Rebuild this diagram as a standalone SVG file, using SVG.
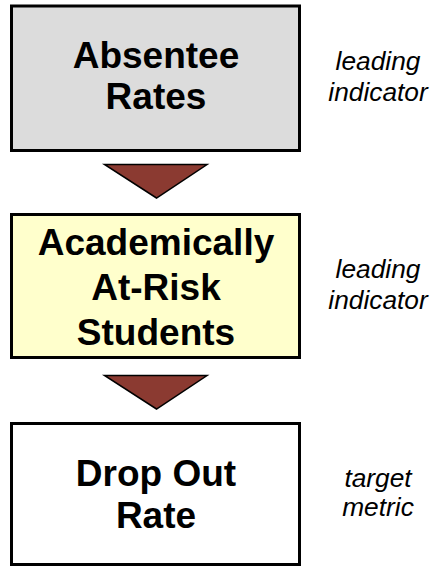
<svg xmlns="http://www.w3.org/2000/svg" width="432" height="566" viewBox="0 0 432 566">
<style>
.box{stroke:#000;stroke-width:3}
.t{font-family:"Liberation Sans",Arimo,Arial,sans-serif;font-weight:bold;font-size:37px;text-anchor:middle;fill:#000}
.n{font-family:"Liberation Sans",Arimo,Arial,sans-serif;font-style:italic;font-size:26.3px;text-anchor:middle;fill:#000}
.arr{fill:#8b3a31;stroke:#000;stroke-width:1.5;stroke-linejoin:miter}
</style>
<rect width="432" height="566" fill="#fff"/>
<g id="absentee">
<rect class="box" x="11.5" y="6" width="288" height="144.5" fill="#dcdcdc"/>
<text class="t" x="156" y="68">Absentee</text>
<text class="t" x="156" y="109">Rates</text>
</g>
<g id="label1">
<text class="n" x="378" y="70">leading</text>
<text class="n" x="378" y="101">indicator</text>
</g>
<g id="atrisk">
<rect class="box" x="11.5" y="214.5" width="288" height="143" fill="#ffffcc"/>
<text class="t" x="156" y="255">Academically</text>
<text class="t" x="156" y="300">At-Risk</text>
<text class="t" x="156" y="345">Students</text>
</g>
<g id="label2">
<text class="n" x="378" y="278">leading</text>
<text class="n" x="378" y="309">indicator</text>
</g>
<g id="dropout">
<rect class="box" x="11.5" y="423.5" width="288" height="141" fill="#fff"/>
<text class="t" x="156" y="486">Drop Out</text>
<text class="t" x="156" y="528">Rate</text>
</g>
<g id="label3">
<text class="n" x="378" y="487">target</text>
<text class="n" x="378" y="516">metric</text>
</g>
<g id="connectors">
<polygon class="arr" points="104.5,164.5 207,164.5 156.5,198"/>
<polygon class="arr" points="104.5,375.5 207,375.5 156.5,409"/>
</g>
</svg>
